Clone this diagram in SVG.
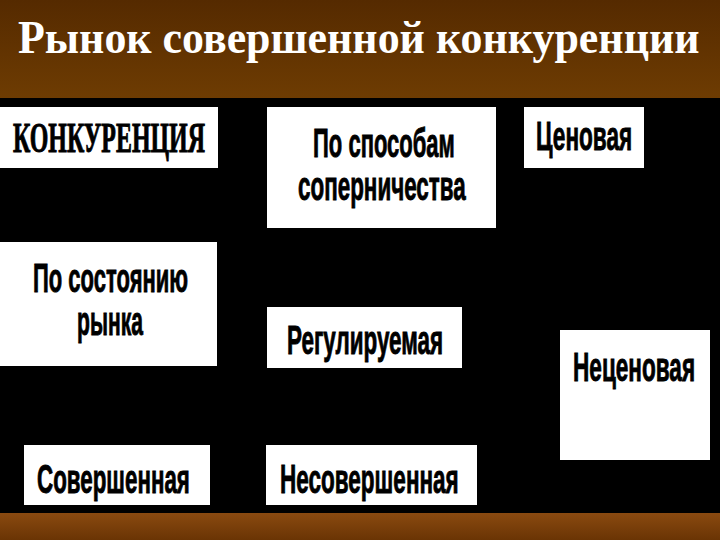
<svg xmlns="http://www.w3.org/2000/svg" width="720" height="540" viewBox="0 0 720 540">
<defs>
<linearGradient id="top" x1="0" y1="0" x2="0" y2="1">
<stop offset="0" stop-color="#552a00"/>
<stop offset="1" stop-color="#6e3c02"/>
</linearGradient>
<linearGradient id="bot" x1="0" y1="0" x2="0" y2="1">
<stop offset="0" stop-color="#8a4a10"/>
<stop offset="1" stop-color="#6a3404"/>
</linearGradient>
<style>
.box{fill:#ffffff}
.t{font-family:"Liberation Sans",Arial,sans-serif;font-weight:bold;font-size:41px;fill:#000;stroke:#000;stroke-width:0.9}
.s{font-family:"Liberation Serif","Times New Roman",serif;font-weight:bold;font-size:43px;fill:#000;stroke:#000;stroke-width:1}
</style>
</defs>
<rect x="0" y="0" width="720" height="98" fill="url(#top)"/>
<rect x="0" y="98" width="720" height="416" fill="#000"/>
<rect x="0" y="513" width="720" height="27" fill="url(#bot)"/>
<text transform="translate(18,53) scale(0.975,1)" x="0" y="0" font-family="Liberation Serif, Times New Roman, serif" font-weight="bold" font-size="46" fill="#fff" textLength="699" lengthAdjust="spacingAndGlyphs">Рынок совершенной конкуренции</text>
<g id="n-konk">
<rect class="box" x="0" y="107" width="218" height="61"/>
<text class="s" transform="translate(13,152) scale(0.55,1)" textLength="349" lengthAdjust="spacingAndGlyphs">КОНКУРЕНЦИЯ</text>
</g>
<g id="n-sposob">
<rect class="box" x="267" y="107" width="229" height="121"/>
<text class="t" transform="translate(313,157) scale(0.55,1)" textLength="258" lengthAdjust="spacingAndGlyphs">По способам</text>
<text class="t" transform="translate(298,200) scale(0.55,1)" textLength="305" lengthAdjust="spacingAndGlyphs">соперничества</text>
</g>
<g id="n-cen">
<rect class="box" x="524" y="107" width="120" height="61"/>
<text class="t" transform="translate(536,150) scale(0.55,1)" textLength="175" lengthAdjust="spacingAndGlyphs">Ценовая</text>
</g>
<g id="n-sost">
<rect class="box" x="0" y="242" width="217" height="124"/>
<text class="t" transform="translate(33,292) scale(0.55,1)" textLength="282" lengthAdjust="spacingAndGlyphs">По состоянию</text>
<text class="t" transform="translate(77,335) scale(0.55,1)" textLength="120" lengthAdjust="spacingAndGlyphs">рынка</text>
</g>
<g id="n-reg">
<rect class="box" x="267" y="307" width="195" height="61"/>
<text class="t" transform="translate(287,354) scale(0.55,1)" textLength="284" lengthAdjust="spacingAndGlyphs">Регулируемая</text>
</g>
<g id="n-necen">
<rect class="box" x="560" y="330" width="150" height="130"/>
<text class="t" transform="translate(573,381) scale(0.55,1)" textLength="222" lengthAdjust="spacingAndGlyphs">Неценовая</text>
</g>
<g id="n-sov">
<rect class="box" x="24" y="445" width="186" height="60"/>
<text class="t" transform="translate(37,493) scale(0.55,1)" textLength="278" lengthAdjust="spacingAndGlyphs">Совершенная</text>
</g>
<g id="n-nesov">
<rect class="box" x="266" y="445" width="211" height="60"/>
<text class="t" transform="translate(280,493) scale(0.55,1)" textLength="325" lengthAdjust="spacingAndGlyphs">Несовершенная</text>
</g>
<g id="connectors"></g>
</svg>
